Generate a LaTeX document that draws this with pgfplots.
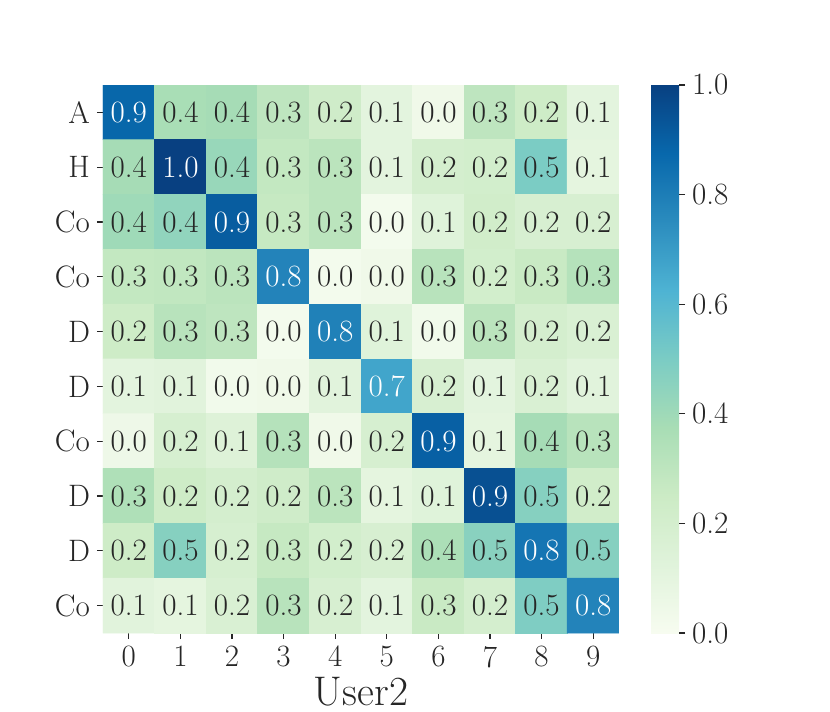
\documentclass[border=0pt]{standalone}
\usepackage{fontspec}
\setmainfont{Latin Modern Roman}
\usepackage{pgfplots}
\usepackage{pgfplotstable}
\pgfplotsset{compat=1.18}

\definecolor{txtdark}{HTML}{262626}

% x y c(colour value) t(printed value)
\pgfplotstableread{
x y c t
0 0 0.88 0.9
1 0 0.37 0.4
2 0 0.38 0.4
3 0 0.30 0.3
4 0 0.23 0.2
5 0 0.11 0.1
6 0 0.04 0.0
7 0 0.30 0.3
8 0 0.24 0.2
9 0 0.11 0.1
0 1 0.38 0.4
1 1 1.00 1.0
2 1 0.42 0.4
3 1 0.28 0.3
4 1 0.31 0.3
5 1 0.11 0.1
6 1 0.20 0.2
7 1 0.21 0.2
8 1 0.50 0.5
9 1 0.10 0.1
0 2 0.40 0.4
1 2 0.44 0.4
2 2 0.91 0.9
3 2 0.27 0.3
4 2 0.31 0.3
5 2 0.02 0.0
6 2 0.13 0.1
7 2 0.22 0.2
8 2 0.18 0.2
9 2 0.18 0.2
0 3 0.28 0.3
1 3 0.29 0.3
2 3 0.31 0.3
3 3 0.78 0.8
4 3 0.02 0.0
5 3 0.04 0.0
6 3 0.32 0.3
7 3 0.21 0.2
8 3 0.26 0.3
9 3 0.33 0.3
0 4 0.24 0.2
1 4 0.32 0.3
2 4 0.30 0.3
3 4 0.02 0.0
4 4 0.79 0.8
5 4 0.13 0.1
6 4 0.03 0.0
7 4 0.31 0.3
8 4 0.20 0.2
9 4 0.17 0.2
0 5 0.11 0.1
1 5 0.12 0.1
2 5 0.03 0.0
3 5 0.04 0.0
4 5 0.12 0.1
5 5 0.67 0.7
6 5 0.18 0.2
7 5 0.11 0.1
8 5 0.17 0.2
9 5 0.12 0.1
0 6 0.05 0.0
1 6 0.19 0.2
2 6 0.14 0.1
3 6 0.33 0.3
4 6 0.04 0.0
5 6 0.19 0.2
6 6 0.90 0.9
7 6 0.10 0.1
8 6 0.38 0.4
9 6 0.32 0.3
0 7 0.35 0.3
1 7 0.24 0.2
2 7 0.20 0.2
3 7 0.23 0.2
4 7 0.31 0.3
5 7 0.10 0.1
6 7 0.13 0.1
7 7 0.95 0.9
8 7 0.47 0.5
9 7 0.22 0.2
0 8 0.24 0.2
1 8 0.47 0.5
2 8 0.19 0.2
3 8 0.27 0.3
4 8 0.21 0.2
5 8 0.18 0.2
6 8 0.36 0.4
7 8 0.46 0.5
8 8 0.83 0.8
9 8 0.47 0.5
0 9 0.12 0.1
1 9 0.10 0.1
2 9 0.17 0.2
3 9 0.32 0.3
4 9 0.18 0.2
5 9 0.11 0.1
6 9 0.26 0.3
7 9 0.20 0.2
8 9 0.49 0.5
9 9 0.78 0.8
}\sim

\begin{document}
\begin{tikzpicture}
\useasboundingbox (-51.5pt,42.5pt) rectangle (363.5pt,-313.5pt);
\begin{axis}[
    at={(0,0)}, anchor=north west,
    scale only axis,
    width=258pt, height=274pt,
    xmin=-0.5, xmax=9.5,
    ymin=-0.5, ymax=9.5,
    y dir=reverse,
    xtick={0,...,9},
    ytick={0,...,9},
    yticklabels={A,H,Co,Co,D,D,Co,D,D,Co},
    /pgf/number format/assume math mode=true,
    tick pos=left,
    tick align=outside,
    major tick length=3pt,
    tick style={txtdark, line width=0.6pt},
    axis line style={draw=none},
    ticklabel style={font=\fontsize{15.5}{18}\selectfont, text=txtdark},
    xlabel={User2},
    xlabel style={font=\fontsize{20.7}{24}\selectfont, text=txtdark, yshift=2pt},
    colormap={gnbu}{rgb255=(247,252,240) rgb255=(224,243,219) rgb255=(204,235,197)
        rgb255=(168,221,181) rgb255=(123,204,196) rgb255=(78,179,211)
        rgb255=(43,140,190) rgb255=(8,104,172) rgb255=(8,64,129)},
    point meta min=0, point meta max=1,
    colorbar,
    colorbar style={
        at={(parent axis.north east)}, anchor=north west, xshift=7.5pt,
        width=14pt,
        ytick={0,0.2,...,1.0},
        ytick pos=right,
        axis line style={draw=none},
        tick align=outside,
        major tick length=3pt,
        tick style={txtdark, line width=0.6pt},
        yticklabel style={font=\fontsize{15.5}{18}\selectfont, text=txtdark,
            /pgf/number format/.cd, assume math mode=true, fixed, fixed zerofill, precision=1},
    },
]
\addplot[matrix plot*, mesh/cols=10, point meta=\thisrow{c}] table[x=x, y=y] {\sim};
\addplot[only marks, mark=none,
    visualization depends on={\thisrow{c} \as \cval},
    point meta=explicit symbolic,
    nodes near coords={\ifdim\cval pt>0.6pt\color{white}\fi\pgfplotspointmeta},
    nodes near coords style={anchor=center, font=\fontsize{15.5}{18}\selectfont, text=txtdark},
] table[x=x, y=y, meta=t] {\sim};
\end{axis}
\end{tikzpicture}
\end{document}
